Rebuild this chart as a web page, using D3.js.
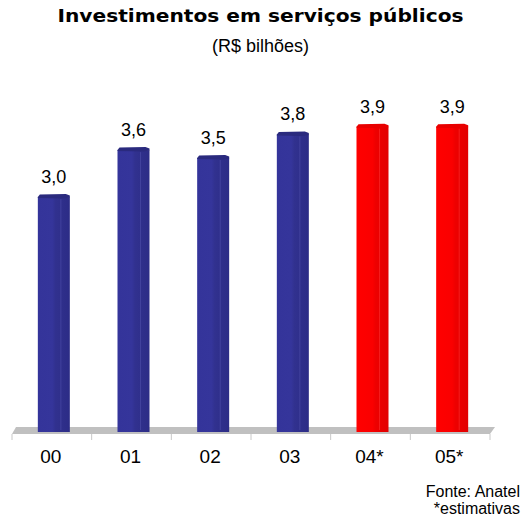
<!DOCTYPE html>
<html>
<head>
<meta charset="utf-8">
<script src="https://cdn.jsdelivr.net/npm/d3@7"></script>
<style>
  html, body { margin: 0; padding: 0; background: #fff; }
  svg { display: block; }
</style>
</head>
<body>
<svg id="chart" width="521" height="523"></svg>
<script>
// Investments in public services, R$ billions (2004 and 2005 are estimates)
const categories = ["00", "01", "02", "03", "04*", "05*"];
const values = [3.0, 3.6, 3.5, 3.8, 3.9, 3.9];
const estimated = [false, false, false, false, true, true];
const valueLabels = ["3,0", "3,6", "3,5", "3,8", "3,9", "3,9"];

const titleText = "Investimentos em serviços públicos";
const subtitleText = "(R$ bilhões)";
const sourceText = "Fonte: Anatel";
const noteText = "*estimativas";

const svg = d3.select("#chart");
const W = 521;

const x = d3.scaleBand().domain(categories).range([12, 490]).padding(0);
const y = d3.scaleLinear().domain([0, 4]).range([432, 118.8]);

const defs = svg.append("defs");
function grad(id, stops) {
  const g = defs.append("linearGradient").attr("id", id)
    .attr("x1", "0%").attr("x2", "100%").attr("y1", "0%").attr("y2", "0%");
  stops.forEach(([o, c]) => g.append("stop").attr("offset", o).attr("stop-color", c));
}
grad("gBlue", [["0%", "#34349A"], ["45%", "#35359B"], ["55%", "#31318F"], ["100%", "#2C2C86"]]);
grad("gRed", [["0%", "#FF0000"], ["50%", "#FA0000"], ["60%", "#EE0000"], ["100%", "#E20000"]]);

// Title block
svg.append("text")
  .attr("x", W / 2).attr("y", 22)
  .attr("text-anchor", "middle")
  .attr("font-family", "'DejaVu Sans', sans-serif")
  .attr("font-weight", 900)
  .attr("font-size", 17)
  .attr("textLength", 406).attr("lengthAdjust", "spacingAndGlyphs")
  .text(titleText);
svg.append("text")
  .attr("x", W / 2).attr("y", 52)
  .attr("text-anchor", "middle")
  .attr("font-family", "'Liberation Sans', Arial, sans-serif")
  .attr("font-size", 18)
  .text(subtitleText);

// Floor of the 3D plot area
const base = y(0);
const floor = [
  [x.range()[0] + 4, base - 5],
  [x.range()[1] + 5, base - 5],
  [x.range()[1], base + 2],
  [x.range()[0], base + 2]
];
svg.append("polygon")
  .attr("points", floor.map(p => p.join(",")).join(" "))
  .attr("fill", "#C0C0C0");

// Category ticks along the front edge of the floor
const tickPos = categories.map(c => x(c)).concat([x.range()[1]]);
svg.append("g").selectAll("line").data(tickPos).join("line")
  .attr("x1", d => d).attr("x2", d => d)
  .attr("y1", base + 2).attr("y2", base + 8)
  .attr("stroke", "#C8C8C8").attr("stroke-width", 1);

// Category labels
svg.append("g").selectAll("text").data(categories).join("text")
  .attr("x", d => x(d) + x.bandwidth() / 2 - 1)
  .attr("y", 463)
  .attr("text-anchor", "middle")
  .attr("font-family", "'Liberation Sans', Arial, sans-serif")
  .attr("font-size", 19)
  .text(d => d);

// Bars drawn as shaded columns with a top cap
const barW = 32;
const bars = svg.append("g").selectAll("g").data(values).join("g")
  .attr("transform", (d, i) => `translate(${x(categories[i]) + x.bandwidth() / 2 + 2 - barW / 2},0)`);

bars.append("rect")
  .attr("x", 0).attr("width", barW)
  .attr("y", d => y(d)).attr("height", d => base - y(d))
  .attr("fill", (d, i) => estimated[i] ? "url(#gRed)" : "url(#gBlue)");

// faint highlight line on the column face
bars.append("line")
  .attr("x1", barW * 0.72).attr("x2", barW * 0.72)
  .attr("y1", d => y(d) + 2).attr("y2", base - 2)
  .attr("stroke", (d, i) => estimated[i] ? "#FF3A3A" : "#5656B0")
  .attr("stroke-opacity", 0.5).attr("stroke-width", 1);

// top cap
bars.append("path")
  .attr("d", d => {
    const t = y(d);
    return `M0,${t} L2,${t - 2.5} L${barW - 4},${t - 3} L${barW},${t - 1.5} L${barW},${t + 0.5} L${barW - 6},${t + 1.5} L0,${t + 1}Z`;
  })
  .attr("fill", (d, i) => estimated[i] ? "#E80000" : "#2A2A7E");

// Value labels
svg.append("g").selectAll("text").data(values).join("text")
  .attr("x", (d, i) => x(categories[i]) + x.bandwidth() / 2 + 2)
  .attr("y", d => y(d) - 14)
  .attr("text-anchor", "middle")
  .attr("font-family", "'Liberation Sans', Arial, sans-serif")
  .attr("font-size", 18)
  .text((d, i) => valueLabels[i]);

// Source and note
svg.append("text")
  .attr("x", 520).attr("y", 497)
  .attr("text-anchor", "end")
  .attr("font-family", "'Liberation Sans', Arial, sans-serif")
  .attr("font-size", 16)
  .text(sourceText);
svg.append("text")
  .attr("x", 520).attr("y", 514)
  .attr("text-anchor", "end")
  .attr("font-family", "'Liberation Sans', Arial, sans-serif")
  .attr("font-size", 16)
  .text(noteText);
</script>
</body>
</html>
